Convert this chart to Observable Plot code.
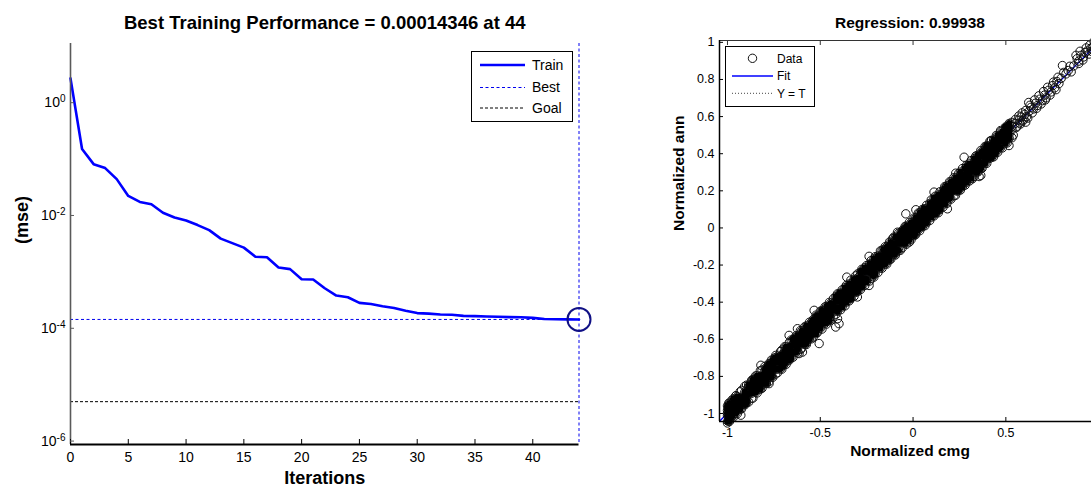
<!DOCTYPE html>
<html>
<head>
<meta charset="utf-8">
<script src="https://cdn.jsdelivr.net/npm/d3@7"></script>
<script src="https://cdn.jsdelivr.net/npm/@observablehq/plot@0.6"></script>
<style>
  html, body { margin: 0; padding: 0; background: #fff; overflow: hidden; }
  #page { position: relative; width: 1091px; height: 487px; overflow: hidden; background: #fff; }
  .panel { position: absolute; top: 0; }
  .panel svg { max-width: none; }
</style>
</head>
<body>
<div id="page"></div>
<script>
// ---------- training performance ----------
const epochs = [0,1,2,3,4,5,6,7,8,9,10,11,12,13,14,15,16,17,18,19,20,21,22,23,24,25,26,27,28,29,30,31,32,33,34,35,36,37,38,39,40,41,42,43,44];
const trainMse = [2.7, 0.151, 0.0813, 0.0692, 0.0441, 0.0222, 0.0174, 0.0158, 0.0112, 0.00923,
  0.00813, 0.00676, 0.0055, 0.00389, 0.00324, 0.00269, 0.00186, 0.00182, 0.0012, 0.00112,
  0.000741, 0.000735, 0.000513, 0.00038, 0.000355, 0.000282, 0.000269, 0.000245, 0.000229, 0.000204,
  0.000186, 0.000182, 0.000176, 0.000174, 0.000166, 0.000164, 0.000162, 0.00016, 0.000158, 0.000157,
  0.000153, 0.000146, 0.0001445, 0.0001437, 0.00014346];
const bestEpoch = 44;
const bestMse = 0.00014346;
const goalMse = 5e-6;
const perfXTicks = [0, 5, 10, 15, 20, 25, 30, 35, 40];
const perfYTicks = [1, 1e-2, 1e-4, 1e-6];
const perfYDomain = [8.7e-7, 11.2];

// ---------- regression: normalized targets (cmg) vs network outputs (ann) ----------
const coreCmg = [
  -1.000,-0.993,-0.989,-0.976,-0.969,-0.954,-0.947,-0.932,-0.924,-0.907,
  -0.897,-0.886,-0.870,-0.863,-0.848,-0.840,-0.823,-0.814,-0.798,-0.791,
  -0.777,-0.763,-0.756,-0.740,-0.730,-0.714,-0.707,-0.692,-0.684,-0.667,
  -0.657,-0.647,-0.630,-0.622,-0.607,-0.600,-0.584,-0.575,-0.558,-0.549,
  -0.538,-0.523,-0.516,-0.500,-0.491,-0.474,-0.466,-0.451,-0.444,-0.429,
  -0.416,-0.407,-0.390,-0.382,-0.367,-0.360,-0.344,-0.335,-0.318,-0.309,
  -0.298,-0.283,-0.276,-0.260,-0.251,-0.234,-0.226,-0.211,-0.204,-0.189,
  -0.176,-0.167,-0.150,-0.142,-0.127,-0.120,-0.104,-0.095,-0.078,-0.069,
  -0.058,-0.043,-0.036,-0.020,-0.011,0.006,0.014,0.029,0.036,0.051,
  0.064,0.073,0.090,0.098,0.113,0.120,0.136,0.145,0.162,0.171,
  0.182,0.197,0.204,0.220,0.229,0.246,0.255,0.266,0.281,0.288,
  0.304,0.313,0.330,0.339,0.350,0.365,0.372,0.388,0.397,0.414,
  0.423,0.434,0.449,0.456,0.472,0.481,0.498,0.507,0.518,0.533];
const coreAnnA = [
  -1.012,-1.031,-0.998,-0.957,-0.984,-0.930,-0.951,-0.919,-0.935,-0.885,
  -0.894,-0.859,-0.891,-0.845,-0.872,-0.833,-0.852,-0.793,-0.804,-0.780,
  -0.794,-0.737,-0.764,-0.721,-0.761,-0.700,-0.709,-0.664,-0.700,-0.662,
  -0.636,-0.669,-0.618,-0.649,-0.598,-0.611,-0.561,-0.580,-0.541,-0.575,
  -0.509,-0.537,-0.510,-0.519,-0.466,-0.504,-0.452,-0.454,-0.425,-0.441,
  -0.392,-0.430,-0.380,-0.399,-0.347,-0.368,-0.318,-0.356,-0.305,-0.319,
  -0.270,-0.308,-0.271,-0.274,-0.233,-0.238,-0.204,-0.239,-0.193,-0.207,
  -0.151,-0.174,-0.135,-0.162,-0.098,-0.133,-0.100,-0.119,-0.058,-0.078,
  -0.046,-0.070,-0.013,-0.026,0.006,-0.009,0.040,0.007,0.043,0.039,
  0.083,0.044,0.104,0.093,0.137,0.104,0.145,0.124,0.189,0.161,
  0.198,0.172,0.225,0.217,0.241,0.228,0.283,0.243,0.287,0.277,
  0.326,0.307,0.347,0.312,0.360,0.349,0.397,0.380,0.412,0.394,
  0.450,0.421,0.453,0.432,0.491,0.474,0.510,0.492,0.539,0.529];
const coreAnnB = [
  -0.983,-0.972,-1.020,-1.000,-0.963,-0.973,-0.920,-0.960,-0.915,-0.924,
  -0.923,-0.894,-0.858,-0.865,-0.823,-0.854,-0.807,-0.824,-0.769,-0.814,
  -0.773,-0.790,-0.741,-0.760,-0.722,-0.726,-0.683,-0.717,-0.674,-0.697,
  -0.666,-0.630,-0.634,-0.596,-0.625,-0.580,-0.612,-0.562,-0.579,-0.546,
  -0.551,-0.501,-0.540,-0.484,-0.498,-0.463,-0.482,-0.424,-0.470,-0.422,
  -0.435,-0.392,-0.396,-0.354,-0.396,-0.348,-0.359,-0.331,-0.342,-0.288,
  -0.309,-0.274,-0.296,-0.235,-0.278,-0.220,-0.242,-0.205,-0.213,-0.165,
  -0.198,-0.151,-0.180,-0.139,-0.139,-0.101,-0.129,-0.085,-0.083,-0.042,
  -0.079,-0.030,-0.050,0.000,-0.037,0.014,0.004,0.047,0.008,0.074,
  0.047,0.078,0.082,0.126,0.090,0.131,0.109,0.162,0.156,0.192,
  0.163,0.199,0.191,0.246,0.201,0.261,0.246,0.273,0.261,0.312,
  0.279,0.325,0.315,0.343,0.343,0.390,0.351,0.402,0.371,0.420,
  0.411,0.452,0.427,0.466,0.468,0.504,0.480,0.523,0.508,0.546];
const coreAnnC = [
  -0.959,-1.039,-0.945,-1.015,-0.922,-0.997,-0.909,-0.977,-0.875,-0.948,
  -0.941,-0.846,-0.918,-0.818,-0.885,-0.797,-0.869,-0.766,-0.838,-0.752,
  -0.731,-0.804,-0.714,-0.787,-0.692,-0.758,-0.658,-0.731,-0.641,-0.713,
  -0.699,-0.602,-0.668,-0.581,-0.655,-0.556,-0.627,-0.528,-0.598,-0.510,
  -0.494,-0.570,-0.476,-0.541,-0.445,-0.513,-0.423,-0.496,-0.406,-0.477,
  -0.369,-0.449,-0.351,-0.426,-0.322,-0.400,-0.302,-0.381,-0.277,-0.347,
  -0.343,-0.240,-0.317,-0.214,-0.290,-0.194,-0.273,-0.167,-0.246,-0.151,
  -0.216,-0.120,-0.194,-0.103,-0.173,-0.078,-0.142,-0.050,-0.121,-0.028,
  -0.014,-0.084,0.010,-0.063,0.027,-0.041,0.054,-0.010,0.081,0.007,
  0.103,0.028,0.132,0.058,0.160,0.077,0.177,0.099,0.200,0.129,
  0.227,0.158,0.247,0.173,0.269,0.205,0.301,0.222,0.320,0.246,
  0.345,0.267,0.374,0.301,0.393,0.320,0.412,0.347,0.443,0.375,
  0.380,0.474,0.413,0.498,0.433,0.518,0.457,0.545,0.483,0.569];
const coreAnnD = [
  -1.051,-0.944,-1.042,-0.928,-1.021,-0.904,-1.001,-0.883,-0.975,-0.854,
  -0.847,-0.938,-0.822,-0.917,-0.797,-0.889,-0.770,-0.864,-0.746,-0.839,
  -0.829,-0.712,-0.805,-0.687,-0.780,-0.666,-0.761,-0.640,-0.735,-0.618,
  -0.604,-0.697,-0.581,-0.674,-0.553,-0.648,-0.533,-0.628,-0.508,-0.598,
  -0.588,-0.470,-0.564,-0.449,-0.545,-0.425,-0.518,-0.401,-0.497,-0.381,
  -0.465,-0.355,-0.441,-0.334,-0.420,-0.310,-0.393,-0.281,-0.368,-0.258,
  -0.247,-0.332,-0.223,-0.310,-0.203,-0.286,-0.176,-0.265,-0.155,-0.240,
  -0.124,-0.217,-0.101,-0.195,-0.076,-0.168,-0.050,-0.146,-0.028,-0.121,
  -0.107,0.008,-0.088,0.030,-0.064,0.054,-0.036,0.081,-0.015,0.100,
  0.012,0.122,0.040,0.151,0.065,0.171,0.082,0.195,0.113,0.223,
  0.132,0.249,0.155,0.271,0.176,0.294,0.204,0.320,0.231,0.337,
  0.253,0.363,0.277,0.388,0.302,0.417,0.322,0.439,0.348,0.467,
  0.472,0.383,0.499,0.408,0.519,0.431,0.544,0.458,0.563,0.486];
const edgeCmg = [-0.998,-0.991,-1.000,-0.996,-0.982,-0.955,-0.905,-0.862,-0.790,-0.745,
  -0.700,-0.640,-0.575,-0.520,-0.460,-0.395,-0.335,-0.275,-0.215,-0.160,
  -0.100,-0.050,0.010,0.060,0.130,0.170,0.240,0.290,0.345,0.395,0.440,0.500,0.540];
const edgeAnn = [-1.041,-1.027,-0.998,-0.969,-1.030,-0.905,-0.952,-0.815,-0.835,-0.700,
  -0.742,-0.595,-0.620,-0.477,-0.503,-0.352,-0.378,-0.232,-0.258,-0.118,
  -0.142,-0.008,-0.031,0.102,0.088,0.212,0.198,0.331,0.302,0.436,0.398,0.540,0.500];
const outlierCmg = [-0.928,-0.820,-0.776,-0.668,-0.623,-0.614,-0.596,-0.533,-0.506,-0.417,
  -0.407,-0.399,-0.357,-0.300,-0.237,-0.237,-0.110,-0.084,-0.020,-0.039,
  0.015,0.113,0.185,0.230,0.275,0.320,0.356,0.365,0.420,0.472,0.517,0.623,0.607,0.805,0.893];
const outlierAnn = [-1.009,-0.740,-0.839,-0.579,-0.543,-0.677,-0.669,-0.444,-0.623,-0.534,
  -0.489,-0.516,-0.265,-0.372,-0.153,-0.310,-0.058,-0.023,-0.076,0.076,
  0.098,0.193,0.103,0.295,0.381,0.265,0.277,0.283,0.470,0.525,0.444,0.676,0.570,0.875,0.886];
const upperCmg = [0.548,0.556,0.565,0.574,0.583,0.591,0.602,0.612,0.625,0.636,
  0.648,0.660,0.671,0.684,0.697,0.709,0.717,0.731,0.744,0.752,
  0.763,0.775,0.786,0.798,0.824,0.836,0.852,0.866,0.884,0.893,
  0.905,0.918,0.927,0.938,0.948,0.958,0.969,0.980,0.995,
  0.552,0.561,0.570,0.579,0.588,0.597,0.607,0.618,0.630,0.642,
  0.655,0.666,0.678,0.690,0.703,0.713,0.725,0.738,0.757,0.770,
  0.781,0.812,0.845,0.878,0.900,0.915,0.933,0.952,0.963,0.975];
const upperAnn = [0.562,0.541,0.580,0.566,0.598,0.577,0.612,0.600,0.628,0.650,
  0.641,0.672,0.660,0.694,0.686,0.716,0.701,0.742,0.733,0.767,
  0.755,0.789,0.778,0.806,0.830,0.848,0.841,0.873,0.912,0.899,
  0.930,0.921,0.945,0.953,0.937,0.968,0.975,0.992,1.003,
  0.585,0.548,0.603,0.560,0.620,0.586,0.633,0.592,0.661,0.620,
  0.690,0.645,0.712,0.668,0.735,0.690,0.758,0.716,0.786,0.745,
  0.812,0.838,0.871,0.930,0.952,0.905,0.970,0.985,0.951,1.005];
const regressionR = 0.99938;
const fitSlope = 0.9991;
const fitIntercept = 0.0004;
const corrDomain = [-1.043, 1.01];
const corrXTicks = [-1, -0.5, 0, 0.5];
const corrYTicks = [-1, -0.8, -0.6, -0.4, -0.2, 0, 0.2, 0.4, 0.6, 0.8, 1];

// ---------- build tables ----------
const trainRows = epochs.map((e, i) => ({epoch: e, mse: trainMse[i]}));
const corrRows = [];
coreCmg.forEach((t, i) => {
  corrRows.push({cmg: t, ann: coreAnnA[i]});
  corrRows.push({cmg: t, ann: coreAnnB[i]});
  corrRows.push({cmg: t, ann: coreAnnC[i]});
  corrRows.push({cmg: t, ann: coreAnnD[i]});
});
edgeCmg.forEach((t, i) => corrRows.push({cmg: t, ann: edgeAnn[i]}));
outlierCmg.forEach((t, i) => corrRows.push({cmg: t, ann: outlierAnn[i]}));
upperCmg.forEach((t, i) => corrRows.push({cmg: t, ann: upperAnn[i]}));
const fitRows = corrDomain.map(x => ({x, y: fitSlope * x + fitIntercept}));
const identityRows = corrDomain.map(x => ({x, y: x}));

const font = "'Liberation Sans', Arial, Helvetica, sans-serif";
const page = document.getElementById("page");
const bestBlue = "#0000ee";

// ---------- left panel: performance curve ----------
const perfChart = Plot.plot({
  width: 600, height: 487,
  marginLeft: 70, marginRight: 21.5, marginTop: 43, marginBottom: 43,
  x: {domain: [0, bestEpoch]},
  y: {type: "log", domain: perfYDomain},
  style: {fontFamily: font, fontSize: "14px", color: "#000", background: "transparent", overflow: "visible"},
  marks: [
    Plot.ruleY([goalMse], {x1: 0, x2: bestEpoch, stroke: "#000", strokeWidth: 1, strokeDasharray: "3,2"}),
    Plot.ruleY([bestMse], {x1: 0, x2: bestEpoch, stroke: bestBlue, strokeWidth: 1, strokeDasharray: "3,2.5"}),
    Plot.ruleX([bestEpoch], {stroke: bestBlue, strokeWidth: 1, strokeDasharray: "3,2.5"}),
    Plot.line(trainRows, {x: "epoch", y: "mse", stroke: "#0000ff", strokeWidth: 2.6}),
    Plot.dot([{epoch: bestEpoch, mse: bestMse}], {x: "epoch", y: "mse", r: 11.5, stroke: "#101085", strokeWidth: 2}),
    Plot.ruleX([0], {stroke: "#5a5a5a", strokeWidth: 1.6}),
    Plot.ruleY([perfYDomain[0]], {x1: 0, x2: bestEpoch, stroke: "#000", strokeWidth: 2}),
    Plot.axisX(perfXTicks, {tickSize: 0, tickPadding: 8, tickFormat: d => String(d), label: null, fontSize: 14}),
    Plot.axisX(perfXTicks, {tickSize: 5, dy: -5, fill: "none", stroke: "#000", label: null}),
    Plot.axisY(perfYTicks, {tickSize: 0, tickPadding: 5, tickFormat: d => String(Math.round(Math.log10(d))), label: null, fontSize: 14}),
    Plot.axisY(perfYTicks, {tickSize: 4, dx: 4, fill: "none", stroke: "#5a5a5a", label: null}),
    Plot.text([`Best Training Performance = ${bestMse} at ${bestEpoch}`], {text: d => d, frameAnchor: "top", lineAnchor: "middle", dy: -20, fontSize: 18.5, fontWeight: "bold"}),
    Plot.text(["Iterations"], {text: d => d, frameAnchor: "bottom", lineAnchor: "middle", dy: 34, fontSize: 18, fontWeight: "bold"}),
    Plot.text(["(mse)"], {text: d => d, frameAnchor: "left", lineAnchor: "middle", dx: -48, rotate: -90, fontSize: 18, fontWeight: "bold"})
  ]
});
// powers of ten drawn as 10 with a raised exponent
d3.select(perfChart).selectAll('g[aria-label="y-axis tick label"] text').each(function () {
  const exp = this.textContent;
  const t = d3.select(this);
  t.text(null);
  t.append("tspan").text("10");
  t.append("tspan").attr("dy", "-0.5em").attr("font-size", "10px").text(exp);
});
const leftPanel = document.createElement("div");
leftPanel.className = "panel";
leftPanel.style.left = "0px";
leftPanel.style.width = "600px";
leftPanel.appendChild(perfChart);
page.appendChild(leftPanel);

// ---------- right panel: regression ----------
const corrChart = Plot.plot({
  width: 480, height: 487,
  marginLeft: 79, marginRight: 20, marginTop: 40, marginBottom: 66,
  x: {domain: corrDomain},
  y: {domain: corrDomain},
  style: {fontFamily: font, fontSize: "12.5px", color: "#000", background: "transparent", overflow: "visible"},
  marks: [
    Plot.line(identityRows, {x: "x", y: "y", stroke: "#444", strokeWidth: 1, strokeDasharray: "1,2", clip: true}),
    Plot.line(fitRows, {x: "x", y: "y", stroke: "#0000ff", strokeWidth: 1.3, clip: true}),
    Plot.dot(corrRows, {x: "cmg", y: "ann", r: 4.2, stroke: "#111", strokeWidth: 1, fill: "none"}),
    Plot.dot(corrRows, {filter: d => Math.abs(d.ann - d.cmg) <= 0.047 && d.cmg <= 0.52, x: "cmg", y: "ann", r: 3.4, fill: "#000"}),
    Plot.frame({stroke: "#333", strokeWidth: 1}),
    Plot.ruleX([corrDomain[0]], {stroke: "#000", strokeWidth: 1.5}),
    Plot.ruleY([corrDomain[0]], {stroke: "#000", strokeWidth: 1.5}),
    Plot.axisX(corrXTicks, {tickSize: 0, tickPadding: 7, tickFormat: d => String(d), label: null}),
    Plot.axisX(corrXTicks, {tickSize: 4, dy: -4, fill: "none", stroke: "#000", label: null}),
    Plot.axisX(corrXTicks, {anchor: "top", tickSize: 4, dy: 4, fill: "none", stroke: "#333", label: null}),
    Plot.axisY(corrYTicks, {tickSize: 0, tickPadding: 5, tickFormat: d => String(d), label: null}),
    Plot.axisY(corrYTicks, {tickSize: 4, dx: 4, fill: "none", stroke: "#000", label: null}),
    Plot.text([`Regression: ${regressionR}`], {text: d => d, frameAnchor: "top", lineAnchor: "middle", dy: -17.5, fontSize: 15.5, fontWeight: "bold"}),
    Plot.text(["Normalized cmg"], {text: d => d, frameAnchor: "bottom", lineAnchor: "middle", dy: 30, fontSize: 15.5, fontWeight: "bold"}),
    Plot.text(["Normalized ann"], {text: d => d, frameAnchor: "left", lineAnchor: "middle", dx: -40, rotate: -90, fontSize: 15.5, fontWeight: "bold"})
  ]
});
const rightPanel = document.createElement("div");
rightPanel.className = "panel";
rightPanel.style.left = "640px";
rightPanel.style.width = "480px";
rightPanel.appendChild(corrChart);
page.appendChild(rightPanel);

// ---------- legends ----------
function legend(left, top, w, h, fontSize, rows) {
  const svg = d3.create("svg")
    .attr("width", w + 2).attr("height", h + 2)
    .style("position", "absolute").style("left", left + "px").style("top", top + "px")
    .style("font-family", font).style("font-size", fontSize + "px");
  svg.append("rect").attr("x", 0.5).attr("y", 0.5).attr("width", w).attr("height", h)
    .attr("fill", "#fff").attr("stroke", "#000").attr("stroke-width", 1);
  for (const r of rows) {
    if (r.kind === "line") {
      svg.append("line").attr("x1", r.x0).attr("x2", r.x1).attr("y1", r.y).attr("y2", r.y)
        .attr("stroke", r.stroke).attr("stroke-width", r.width)
        .attr("stroke-dasharray", r.dash || null);
    } else {
      svg.append("circle").attr("cx", (r.x0 + r.x1) / 2).attr("cy", r.y).attr("r", 4.2)
        .attr("fill", "none").attr("stroke", r.stroke).attr("stroke-width", 1);
    }
    svg.append("text").attr("x", r.tx).attr("y", r.y).attr("dy", "0.35em").attr("fill", "#000").text(r.label);
  }
  page.appendChild(svg.node());
}
legend(471, 51, 101, 70, 14, [
  {kind: "line", label: "Train", x0: 9, x1: 54, y: 14, tx: 61, stroke: "#0000ff", width: 2.6},
  {kind: "line", label: "Best", x0: 9, x1: 54, y: 36.5, tx: 61, stroke: bestBlue, width: 1, dash: "3,2.5"},
  {kind: "line", label: "Goal", x0: 9, x1: 54, y: 57, tx: 61, stroke: "#000", width: 1, dash: "3,2"}
]);
legend(725, 46, 89, 60, 12, [
  {kind: "dot", label: "Data", x0: 7, x1: 48, y: 12.3, tx: 52, stroke: "#111"},
  {kind: "line", label: "Fit", x0: 7, x1: 48, y: 30, tx: 52, stroke: "#0000ff", width: 1.3},
  {kind: "line", label: "Y = T", x0: 7, x1: 48, y: 47.3, tx: 52, stroke: "#444", width: 1, dash: "1,2"}
]);
</script>
</body>
</html>
